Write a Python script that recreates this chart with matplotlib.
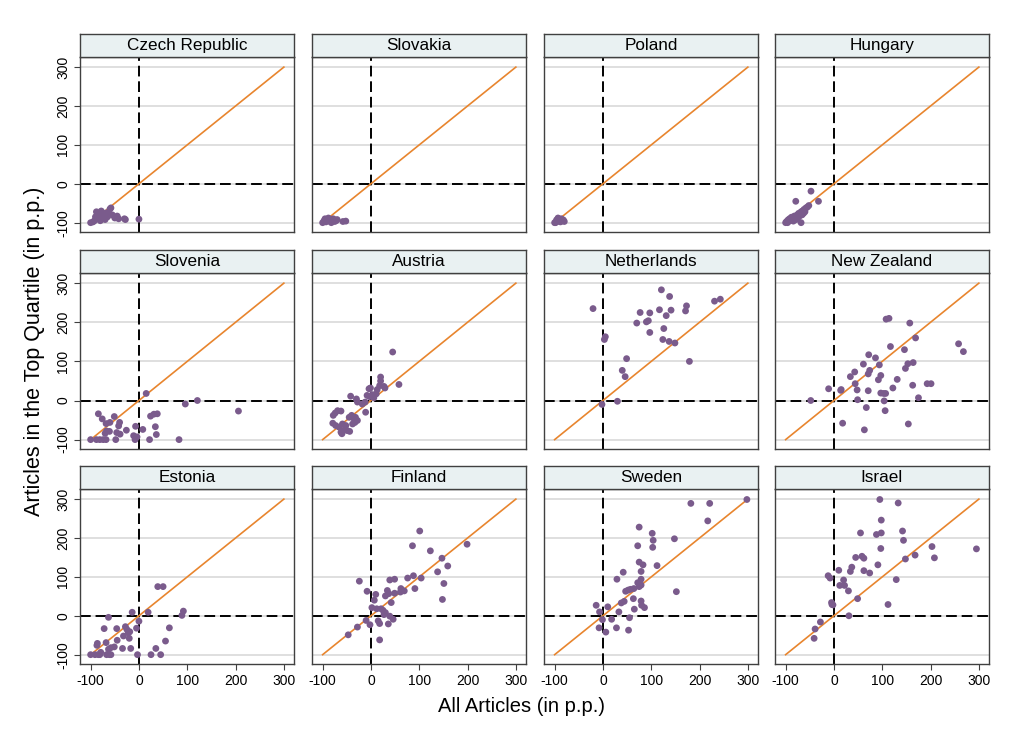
import matplotlib
matplotlib.use("Agg")
import matplotlib.pyplot as plt
import numpy as np

plt.rcParams["font.family"] = ["Liberation Sans", "DejaVu Sans"]

# Landnamn i panelordning
countries = ["Czech Republic", "Slovakia", "Poland", "Hungary",
             "Slovenia", "Austria", "Netherlands", "New Zealand",
             "Estonia", "Finland", "Sweden", "Israel"]

# Punkter (x = alla artiklar, y = artiklar i toppkvartilen), i p.p.
czech_x = [-100, -95, -92, -90, -88, -85, -83, -80, -78, -75, -72, -70, -68, -65, -62, -60, -58, -55, -50, -45, -42, -30, -28, 0]
czech_y = [-100, -98, -95, -85, -72, -90, -78, -95, -70, -88, -80, -92, -75, -85, -78, -65, -62, -80, -88, -83, -90, -90, -92, -91]

slovakia_x = [-100, -97, -95, -93, -90, -88, -86, -84, -82, -80, -78, -75, -72, -70, -58, -52]
slovakia_y = [-100, -95, -90, -98, -93, -88, -96, -92, -100, -94, -90, -97, -95, -92, -97, -96]

poland_x = [-100, -98, -96, -95, -93, -92, -90, -88, -86, -85, -82, -80]
poland_y = [-100, -100, -93, -97, -88, -95, -92, -98, -90, -95, -93, -97]

hungary_x = [-100, -98, -96, -95, -93, -92, -90, -88, -87, -85, -84, -82, -80, -79, -78, -76, -75, -73, -72, -70, -68, -68, -66, -65, -63, -62, -60, -58, -55, -52, -47.5, -32]
hungary_y = [-100, -97, -100, -93, -96, -90, -94, -86, -92, -88, -96, -83, -86, -45, -92, -80, -88, -76, -84, -78, -100, -72, -80, -70, -76, -66, -72, -62, -60, -56, -19, -45]

slovenia_x = [-84, -76, -68, -60, -51, -40, -42, -67, -61, -70, -46, -39, -26, -7, 8, -11, -8, -4, -100, -88, -81, -74, -68, -48, 22, 36, 34, 24, 31, 38, 15, 96, 121, 206, 83]
slovenia_y = [-34, -47, -59, -56, -41, -56, -65, -78, -79, -84, -82, -86, -76, -66, -74, -90, -100, -93, -100, -100, -100, -100, -100, -100, -100, -87, -67, -40, -35, -34, 18, -9, 0, -27, -100]

austria_x = [45, 58, 20, 20, 18, -4, -1, 13, 27, 29, -8, -3, 3, 6, 11, -42, -30, -28, -18, -12, -11, -45, -40, -35, -32, -28, -78, -69, -62, -74, -79, -73, -66, -59, -52, -62, -55, -49, -44, -60, -38, -33]
austria_y = [124, 41, 60, 50, 38, 30, 32, 28, 36, 32, 13, 10, 15, 7, 17, 11, 4, -4, -9, -4, -30, -43, -38, -47, -43, -51, -38, -26, -27, -32, -58, -64, -68, -60, -64, -81, -75, -77, -79, -85, -60, -56]

netherlands_x = [-20.5, 3, 5, -2, 30, 49, 40, 46, 70, 77, 97, 90, 94, 97, 117, 121, 138, 141, 131, 126, 124, 137, 149, 173, 171, 179, 231, 243]
netherlands_y = [235, 156, 163, -10, -2, 107, 77, 61, 198, 225, 224, 201, 204, 174, 232, 283, 266, 231, 217, 184, 156, 151, 147, 242, 229, 100, 254, 259]

nz_x = [-48, -11, 14, 15, 18, 34, 43, 44, 48, 49, 61, 67, 63, 72, 74, 71, 71, 86, 94, 92, 97, 97, 103, 107, 104, 106, 108, 114, 117, 122, 131, 146, 148, 153, 164, 157, 169, 163, 154, 175, 193, 201, 258, 268]
nz_y = [0, 30, 26, 28, -58, 61, 73, 43, 27, 2, 93, -18, -75, 117, 77, 68, 25, 109, 91, 53, 64, 19, 18, 18, -1, -26, 208, 210, 138, 32, 54, 130, 82, 94, 97, 198, 160, 39, -60, 7, 43, 43, 145, 125]

estonia_x = [-100, -91, -84, -81, -87, -86, -79, -68, -67, -61, -58, -63, -58, -51, -72, -63, -46, -45, -32, -34, -28, -25, -22, -20, -19, -17, -14, -5, 0, -3, 19, 25, 35, 45, 39, 50, 55, 63, 89, 92]
estonia_y = [-100, -100, -100, -100, -76, -71, -94, -69, -100, -100, -100, -86, -82, -80, -33, -4, -33, -63, -52, -84, -28, -35, -44, -58, -41, -84, 9, -32, -14, -100, 9, -100, -84, -100, 75, 75, -65, -31, 1, 12]

finland_x = [-47, -28, -10, -2, -24, -8, 10, 7, 2, 12, 21, 15, 18, 18, 25, 27, 30, 36, 39, 46, 30, 34, 37, 42, 39, 49, 49, 62, 61, 69, 76, 88, 91, 86, 101, 104, 123, 138, 147, 159, 151, 148, 199]
finland_y = [-49, -29, -12, -23, 89, 63, 55, 40, 21, 18, 18, -13, -20, -62, 14, 3, 8, -21, -1, -9, 51, 65, 57, 34, 92, 94, 58, 70, 61, 64, 97, 103, 70, 180, 218, 97, 167, 113, 148, 128, 83, 42, 184]

sweden_x = [-14, -7, -1, -8, 6, 10, 18, 28, 33, 38, 44, 29, 42, 47, 52, 57, 63, 65, 53, 55, 64, 72, 75, 79, 79, 79, 75, 83, 72, 75, 79, 80, 86, 102, 104, 103, 112, 148, 152, 182, 221, 217, 298]
sweden_y = [27, 10, -10, -31, -42, 23, -9, -31, 10, 33, 37, 94, 112, 63, 66, 68, 44, 17, -37, -5, 70, 85, 75, 79, 94, 114, 138, 131, 180, 228, 38, 27, 21, 212, 194, 176, 129, 198, 62, 289, 289, 244, 299]

israel_x = [-41, -39, -28, -12, -8, -5, -4, -2, 10, 12, 20, 22, 30, 31, 34, 37, 49, 45, 55, 58, 62, 62, 74, 91, 88, 98, 97, 98, 95, 112, 129, 133, 142, 144, 148, 168, 203, 208, 295]
israel_y = [-58, -34, -16, 103, 97, 34, 29, 28, 117, 78, 92, 78, 64, 0, 114, 125, 44, 150, 213, 153, 148, 116, 110, 131, 209, 213, 173, 246, 299, 29, 93, 290, 218, 194, 146, 156, 178, 149, 172]

xs = [czech_x, slovakia_x, poland_x, hungary_x, slovenia_x, austria_x,
      netherlands_x, nz_x, estonia_x, finland_x, sweden_x, israel_x]
ys = [czech_y, slovakia_y, poland_y, hungary_y, slovenia_y, austria_y,
      netherlands_y, nz_y, estonia_y, finland_y, sweden_y, israel_y]

ticks = [-100, 0, 100, 200, 300]
diag = [-100, 300]

# Layout i pixlar (figur 1024x745)
W, H = 1024, 745
col_left = [80, 312, 544, 775]
row_top = [57, 273, 489]      # överkant plotyta (= underkant rubrikremsa)
row_bottom = [232, 449, 664]
pw = 214
hh = 23

point_col = "#7a5b8c"
line_col = "#e8852e"
strip_col = "#e9f1f2"
frame_col = "#404040"

fig = plt.figure(figsize=(W / 100, H / 100), dpi=100)

for i, name in enumerate(countries):
    r, c = divmod(i, 4)
    left = col_left[c] / W
    bottom = (H - row_bottom[r]) / H
    height = (row_bottom[r] - row_top[r]) / H
    ax = fig.add_axes([left, bottom, pw / W, height])

    ax.set_xlim(-122, 321)
    ax.set_ylim(-124, 326)
    for t in ticks:
        ax.axhline(t, color="#dcdcdc", lw=1.3, zorder=0)
    ax.axvline(0, color="black", lw=1.4, dashes=(5.5, 2.5), zorder=1)
    ax.axhline(0, color="black", lw=1.4, dashes=(5.5, 2.5), zorder=1)
    ax.plot(diag, diag, color=line_col, lw=1.2, zorder=2)
    ax.scatter(xs[i], ys[i], s=24, color=point_col, edgecolors="none", zorder=3)

    ax.set_xticks(ticks)
    ax.set_yticks(ticks)
    ax.tick_params(direction="out", length=4, width=0.8, color=frame_col,
                   labelsize=10, pad=3)
    if c == 0:
        ax.set_yticklabels([str(t) for t in ticks], rotation=90, va="center")
    else:
        ax.tick_params(axis="y", length=0, labelleft=False)
    if r == 2:
        ax.set_xticklabels([str(t) for t in ticks])
    else:
        ax.tick_params(axis="x", length=0, labelbottom=False)
    for sp in ax.spines.values():
        sp.set_color(frame_col)
        sp.set_linewidth(1.0)

    # Rubrikremsa
    hax = fig.add_axes([left, (H - row_top[r]) / H, pw / W, hh / H])
    hax.set_facecolor(strip_col)
    hax.set_xticks([])
    hax.set_yticks([])
    for sp in hax.spines.values():
        sp.set_color(frame_col)
        sp.set_linewidth(1.0)
    hax.text(0.5, 0.48, name, ha="center", va="center", fontsize=12.3,
             transform=hax.transAxes)

fig.text(522 / W, 1 - 707 / H, "All Articles (in p.p.)", ha="center",
         va="center", fontsize=14.5)
fig.text(35 / W, 1 - 351 / H, "Articles in the Top Quartile (in p.p.)",
         ha="center", va="center", rotation=90, fontsize=15.5)

fig.savefig("out.png", dpi=100, facecolor="white")
